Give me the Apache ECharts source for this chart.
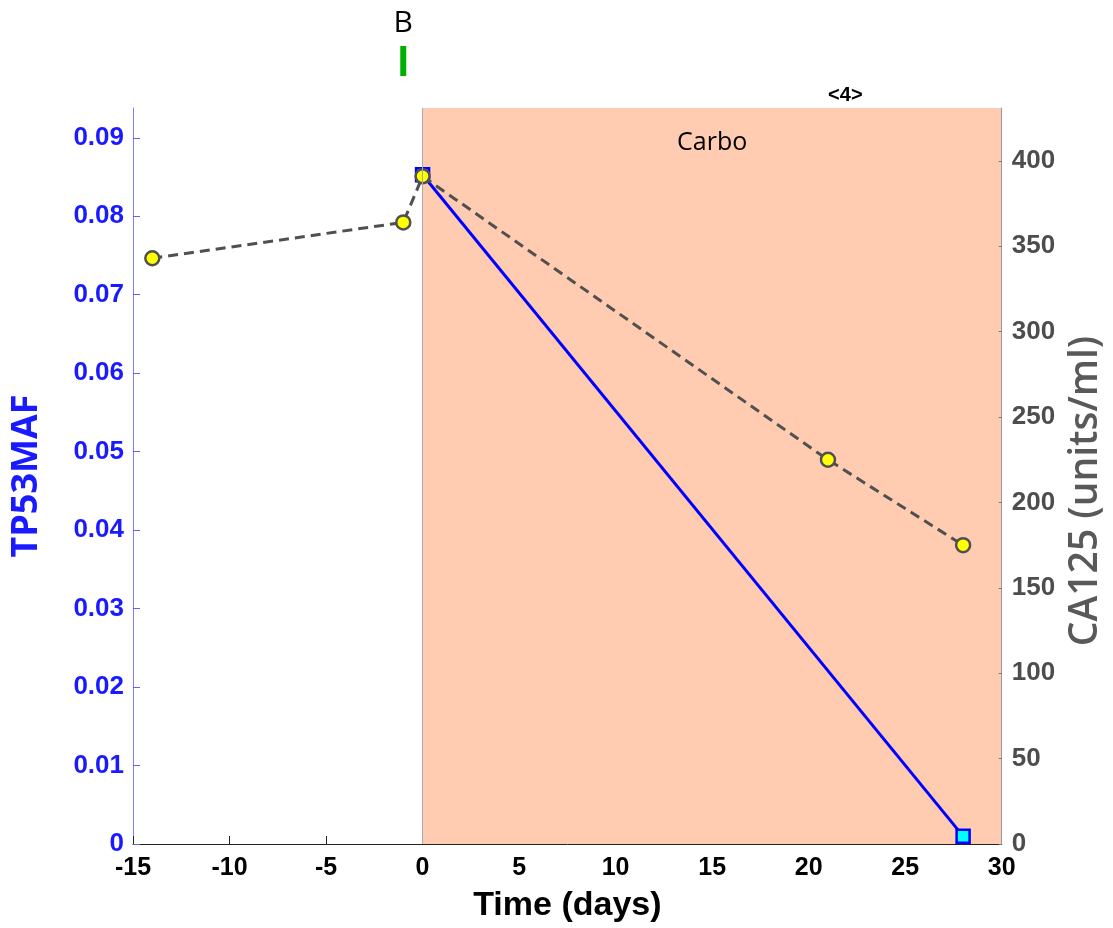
<!DOCTYPE html>
<html>
<head>
<meta charset="utf-8">
<script src="https://cdn.jsdelivr.net/npm/echarts@6/dist/echarts.min.js"></script>
<style>html,body{margin:0;padding:0;background:#fff;overflow:hidden;width:1113px;height:928px;}#c{width:1113px;height:928px;}</style>
</head>
<body>
<div id="c"></div>
<script>
// ---- data ----
const tp53Days = [0, 28];
const tp53Values = [0.0853, 0.001];
const ca125Days = [-14, -1, 0, 21, 28];
const ca125Values = [343, 364, 391, 225, 175];
const treatmentStart = 0;
const treatmentEnd = 30;
const treatmentName = 'Carbo';
const eventDay = -1;
const eventLabel = 'B';
const cycleDay = 21.9;
const cycleLabel = '<4>';

const chart = echarts.init(document.getElementById('c'), null, {renderer: 'canvas', width: 1113, height: 928});
const blue = '#0000ff';
const gray = '#505050';

const option = {
  animation: false,
  backgroundColor: '#ffffff',
  grid: {left: 133, right: 108, top: 108, bottom: 83, containLabel: false},
  xAxis: {
    type: 'value', min: -15, max: 30, interval: 5,
    name: 'Time (days)', nameLocation: 'middle', nameGap: 45,
    nameTextStyle: {fontFamily: 'Liberation Sans', fontWeight: 'bold', fontSize: 34, color: '#000'},
    axisLine: {show: true, onZero: false, lineStyle: {color: '#222', width: 1}},
    axisTick: {show: true, inside: true, length: 8, lineStyle: {color: '#222'}},
    axisLabel: {fontFamily: 'Liberation Sans', fontWeight: 'bold', fontSize: 25, color: '#000', margin: 12},
    splitLine: {show: false}
  },
  yAxis: [
    {
      type: 'value', min: 0, max: 0.0938, interval: 0.01, position: 'left',
      name: 'TP53MAF', nameLocation: 'middle', nameRotate: 90, nameGap: 88,
      nameTextStyle: {fontFamily: 'Open Sans', fontWeight: 'bold', fontSize: 36, color: '#1a1aff'},
      axisLine: {show: true, onZero: false, lineStyle: {color: '#8080ff', width: 1}},
      axisTick: {show: true, inside: true, length: 7, lineStyle: {color: '#6060ff'}},
      axisLabel: {fontFamily: 'Liberation Sans', fontWeight: 'bold', fontSize: 26, color: '#1a1aff', margin: 9,
        showMaxLabel: false,
        formatter: v => v === 0 ? '0' : v.toFixed(2)},
      splitLine: {show: false}
    },
    {
      type: 'value', min: 0, max: 431, interval: 50, position: 'right', z: 5,
      name: 'CA125 (units/ml)', nameLocation: 'middle', nameRotate: 90, nameGap: 62,
      nameTextStyle: {fontFamily: 'Open Sans', fontWeight: 600, fontSize: 39, color: '#595959', padding: [0, 30, 0, 0]},
      axisLine: {show: true, onZero: false, lineStyle: {color: '#999999', width: 1}},
      axisTick: {show: true, inside: true, length: 3, lineStyle: {color: '#777'}},
      axisLabel: {fontFamily: 'Liberation Sans', fontWeight: 'bold', fontSize: 26, color: '#4d4d4d', margin: 10,
        showMaxLabel: false},
      splitLine: {show: false}
    }
  ],
  series: [
    {
      name: 'treatment', type: 'line', data: [], z: 1, silent: true,
      markArea: {
        silent: true,
        itemStyle: {color: '#ffccb2'},
        label: {show: true, position: 'insideTop', distance: 22, color: '#000',
          fontFamily: 'Open Sans', fontSize: 25},
        data: [[{xAxis: treatmentStart, name: treatmentName}, {xAxis: treatmentEnd}]]
      },
      markLine: {
        silent: true, symbol: 'none',
        lineStyle: {color: '#aaaaaa', width: 1, type: 'solid'},
        label: {show: false},
        data: [{xAxis: treatmentStart}]
      }
    },
    {
      name: 'TP53MAF', type: 'line', yAxisIndex: 0, z: 3,
      data: tp53Days.map((d, i) => [d, tp53Values[i]]),
      lineStyle: {color: blue, width: 3},
      symbol: 'rect', symbolSize: 13, showAllSymbol: true,
      itemStyle: {color: '#00ffff', borderColor: blue, borderWidth: 2.5}
    },
    {
      name: 'CA125', type: 'line', yAxisIndex: 1, z: 4,
      data: ca125Days.map((d, i) => [d, ca125Values[i]]),
      lineStyle: {color: gray, width: 3, type: [10, 6]},
      symbol: 'circle', symbolSize: 14, showAllSymbol: true,
      itemStyle: {color: '#ffff00', borderColor: gray, borderWidth: 2.5}
    }
  ]
};
chart.setOption(option);

const bx = chart.convertToPixel({xAxisIndex: 0}, eventDay);
const cx = chart.convertToPixel({xAxisIndex: 0}, cycleDay);
chart.setOption({
  graphic: [
    {type: 'text', x: bx, y: 23, style: {text: eventLabel, font: '30px "Open Sans"', fill: '#000', align: 'center', verticalAlign: 'middle'}},
    {type: 'rect', shape: {x: bx - 3, y: 46, width: 6, height: 30}, style: {fill: '#00b000'}},
    {type: 'text', x: cx, y: 95, style: {text: cycleLabel, font: 'bold 20px "Liberation Sans"', fill: '#000', align: 'center', verticalAlign: 'middle'}}
  ]
});
</script>
</body>
</html>
